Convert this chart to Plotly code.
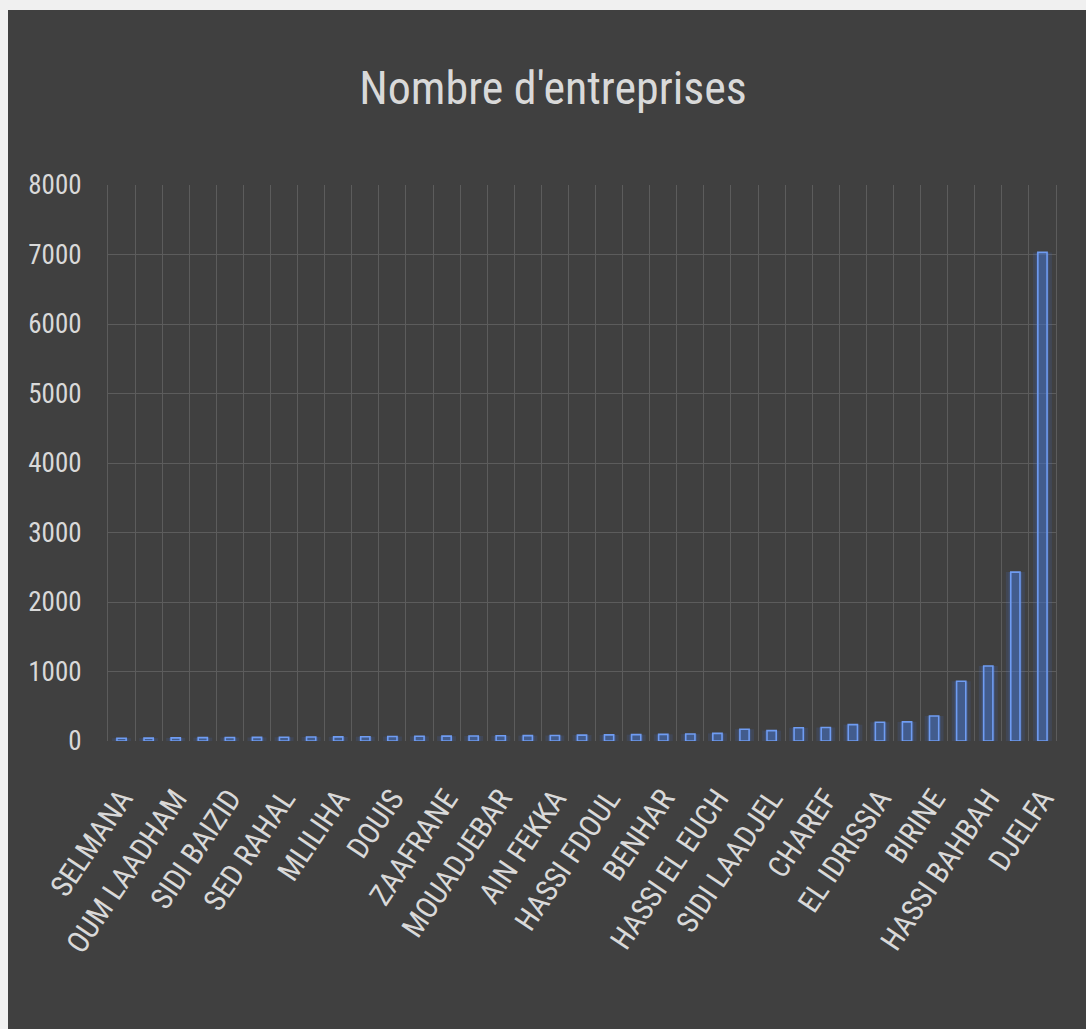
import plotly.graph_objects as go

categories = [
    "SELMANA", "EL GUEDID", "OUM LAADHAM", "AIN MAABED", "SIDI BAIZID",
    "FEIDH EL BOTMA", "SED RAHAL", "BOUIRA LAHDAB", "MLILIHA", "ZACCAR",
    "DOUIS", "EL KHEMIS", "ZAAFRANE", "GUETTARA", "MOUADJEBAR",
    "HAD SAHARY", "AIN FEKKA", "GUERNINI", "HASSI FDOUL", "AIN CHOUHADA",
    "BENHAR", "DAR CHIOUKH", "HASSI EL EUCH", "BENYAGOUB", "SIDI LAADJEL",
    "DELDOUL", "CHAREF", "AIN EL IBEL", "EL IDRISSIA", "AMOURAH",
    "BIRINE", "MESSAAD", "HASSI BAHBAH", "AIN OUSSERA", "DJELFA",
]
values = [
    40, 42, 45, 48, 50, 52, 55, 58, 60, 62,
    65, 68, 70, 72, 75, 78, 80, 85, 88, 92,
    96, 100, 110, 170, 150, 190, 195, 235, 270, 275,
    360, 860, 1080, 2430, 7030,
]
# only every other category name is printed on the axis
tick_text = [c if i % 2 == 0 else "" for i, c in enumerate(categories)]
y_ticks = [0, 1000, 2000, 3000, 4000, 5000, 6000, 7000, 8000]

W, H = 1086, 1029
L, R, T, B = 108, 30, 185, 288
pw, ph = W - L - R, H - T - B
FONT = "Roboto Condensed, DejaVu Sans Condensed, Roboto, sans-serif"

fig = go.Figure()
# soft glow behind each column
fig.add_trace(go.Bar(
    x=categories, y=values, width=0.7,
    marker=dict(color="rgba(70,115,210,0.14)", line=dict(width=0)),
    hoverinfo="skip", showlegend=False,
))
fig.add_trace(go.Bar(
    x=categories, y=values, width=0.5,
    marker=dict(color="rgba(70,115,210,0.22)", line=dict(width=0)),
    hoverinfo="skip", showlegend=False,
))
fig.add_trace(go.Bar(
    x=categories, y=values, width=0.34,
    marker=dict(color="rgba(68,114,196,0.35)",
                line=dict(color="#6f9cf2", width=1.6)),
    showlegend=False,
))

# dark chart panel on light page
fig.add_shape(type="rect", xref="paper", yref="paper", layer="below",
              x0=(8 - L) / pw, x1=(W - L) / pw + 0.01,
              y0=-(B) / ph - 0.01, y1=(ph + T - 10) / ph,
              fillcolor="#404040", line=dict(width=0))

fig.update_layout(
    width=W, height=H,
    margin=dict(l=L, r=R, t=T, b=B, autoexpand=False),
    paper_bgcolor="#f0f0f0",
    plot_bgcolor="#404040",
    barmode="overlay",
    title=dict(text="Nombre d'entreprises", x=(553 - L) / pw, xref="paper",
               xanchor="center", y=1 - 88 / H, yanchor="middle",
               font=dict(family=FONT, size=46, color="#d9d9d9")),
    font=dict(family=FONT, color="#d9d9d9"),
    xaxis=dict(
        type="category", tickson="boundaries",
        tickmode="array", tickvals=categories, ticktext=tick_text,
        tickangle=-56, tickfont=dict(size=30, color="#d9d9d9"),
        ticks="", showgrid=True, gridcolor="#5c5c5c", gridwidth=1,
        showline=False, ticklabelstandoff=33,
        range=[-0.5, len(categories) - 0.5],
    ),
    yaxis=dict(
        range=[0, 8000], tickvals=y_ticks,
        tickfont=dict(size=27, color="#d9d9d9"),
        showgrid=True, gridcolor="#5c5c5c", gridwidth=1,
        zeroline=False, showline=True, linecolor="#5c5c5c", mirror=True,
        ticks="", ticklabelstandoff=20,
    ),
    hovermode=False,
)

fig.write_html("out.html")
